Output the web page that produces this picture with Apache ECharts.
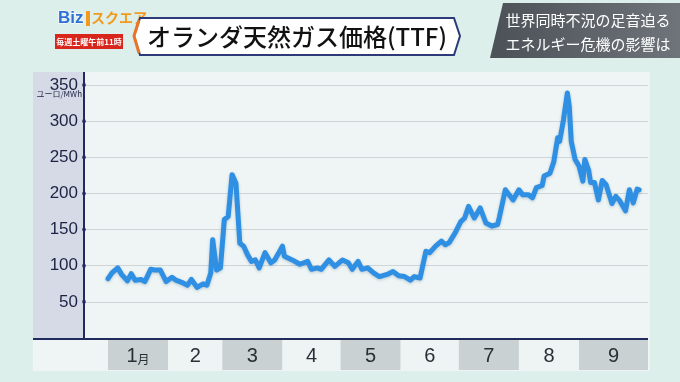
<!DOCTYPE html>
<html><head><meta charset="utf-8">
<script src="https://cdn.jsdelivr.net/npm/echarts@6/dist/echarts.min.js"></script>
<style>html,body{margin:0;padding:0;background:#dcefeb;}#c{width:680px;height:382px;}</style>
</head><body><div id="c"></div>
<script>
// Day of year 2022 (0 = Jan 1) and TTF price (EUR/MWh)
const days = [0,2,5,7,10,12,14,17,19,22,24,27,30,33,35,38,41,43,46,49,51,53,54,56,58,60,62,64,66,68,70,72,74,76,78,81,84,86,90,91,95,99,103,105,108,110,114,117,121,124,126,129,131,134,137,140,144,147,150,153,156,158,161,164,166,169,172,174,176,179,182,184,186,189,192,195,198,201,202,205,209,212,214,217,219,221,224,225,228,230,232,233,235,237,238,239,241,243,245,246,248,249,251,253,255,257,260,262,264,267,269,271,273,274];
const prices = [82,90,97,88,79,89,80,81,78,95,94,94,78,84,80,77,73,81,70,75,73,90,136,94,97,164,168,226,214,131,127,115,106,108,97,118,104,108,127,113,108,102,106,95,97,95,108,99,108,104,95,106,95,97,90,85,88,92,86,85,80,85,83,120,118,127,134,129,132,145,161,166,182,166,180,159,155,157,168,205,191,205,198,198,194,208,211,224,228,244,277,272,302,339,320,272,247,238,217,247,232,215,215,191,218,212,186,196,190,176,205,187,206,205];
const monthStarts = [0,31,59,90,120,151,181,212,243];
const monthLabels = ['1月','2','3','4','5','6','7','8','9'];
const yTicks = [50,100,150,200,250,300,350];
const xMin = -12.4, xMax = 278.6;

const chart = echarts.init(document.getElementById('c'));
const bandData = monthStarts.map((s,i)=>[s, i<monthStarts.length-1?monthStarts[i+1]:xMax, i]);
const jp = '"Noto Sans CJK JP", sans-serif';
chart.setOption({
  animation:false,
  backgroundColor:'#dcefeb',
  grid:[
    {left:84,right:32,top:85,bottom:44},
    {left:108,right:32,top:340,height:30}
  ],
  xAxis:[
    {gridIndex:0,type:'value',min:xMin,max:xMax,show:false},
    {gridIndex:1,type:'value',min:0,max:xMax,show:false}
  ],
  yAxis:[
    {gridIndex:0,type:'value',min:0,max:350,interval:50,
     axisLine:{show:true,onZero:false,lineStyle:{color:'#222b5e',width:2}},
     axisTick:{show:false},
     splitLine:{show:true,lineStyle:{color:'#cfd5d7',width:1}},
     axisLabel:{margin:6,fontSize:17,color:'#1d2344',fontFamily:'"Liberation Sans", Arial, sans-serif',
       formatter:v=>v===0?'':String(v)}},
    {gridIndex:1,type:'value',min:0,max:1,show:false}
  ],
  graphic:[
    {type:'rect',shape:{x:33,y:72,width:617,height:299},style:{fill:'#eef5f4'},z:-10,silent:true},
    {type:'rect',shape:{x:33,y:72,width:51,height:266},style:{fill:'#d6dae6'},z:-9,silent:true},
    {type:'line',shape:{x1:84,y1:72,x2:84,y2:86},style:{stroke:'#222b5e',lineWidth:2},z:5},
    {type:'line',shape:{x1:33,y1:339,x2:648,y2:339},style:{stroke:'#222b5e',lineWidth:2},z:5},
    {type:'text',style:{text:'ユーロ/MWh',x:82,y:94,align:'right',verticalAlign:'middle',fontSize:8,fill:'#1d2344',fontFamily:jp},z:5},
    // logo
    {type:'text',style:{text:'Biz',x:58,y:18,verticalAlign:'middle',fontSize:17,fontWeight:'bold',fill:'#2f6fd6',stroke:'#ffffff',lineWidth:1,fontFamily:'"Liberation Sans", Arial, sans-serif'}},
    {type:'rect',shape:{x:86,y:11,width:4,height:15},style:{fill:'#f39a1e'}},
    {type:'text',style:{text:'スクエア',x:91,y:18,verticalAlign:'middle',fontSize:14,fontWeight:'bold',fill:'#f39a1e',fontFamily:jp}},
    {type:'rect',shape:{x:55,y:34,width:68,height:15},style:{fill:'#d9261c'}},
    {type:'text',style:{text:'毎週土曜午前11時',x:89,y:41.5,align:'center',verticalAlign:'middle',fontSize:8,fontWeight:'bold',fill:'#ffffff',fontFamily:jp}},
    // title
    {type:'polygon',shape:{points:[[140,18],[454,18],[460,36],[454,55],[140,55],[134,36]]},style:{fill:'#ffffff',stroke:'#2c3a7a',lineWidth:2}},
    {type:'polyline',shape:{points:[[139,20],[134,36],[139,53]]},style:{stroke:'#e8752a',lineWidth:3,fill:null}},
    {type:'text',style:{text:'オランダ天然ガス価格(TTF)',x:147,y:37,verticalAlign:'middle',fontSize:24,fontWeight:500,fill:'#111111',fontFamily:jp}},
    // right box
    {type:'polygon',shape:{points:[[503,3],[680,3],[680,58],[490,58]]},style:{fill:new echarts.graphic.LinearGradient(0,0,1,0,[{offset:0,color:'#4c5158'},{offset:1,color:'#6f747b'}])}},
    {type:'text',style:{text:'世界同時不況の足音迫る',x:588,y:20,align:'center',verticalAlign:'middle',fontSize:15,fill:'#ffffff',fontFamily:jp}},
    {type:'text',style:{text:'エネルギー危機の影響は',x:588,y:44,align:'center',verticalAlign:'middle',fontSize:15,fill:'#ffffff',fontFamily:jp}}
  ],
  series:[
    {type:'line',xAxisIndex:0,yAxisIndex:0,data:days.map((d,i)=>[d,prices[i]]),showSymbol:false,
     lineStyle:{color:'#2f8fe3',width:5,cap:'round',join:'round',shadowColor:'rgba(0,60,120,0.25)',shadowBlur:3,shadowOffsetY:1},z:4},
    {type:'scatter',xAxisIndex:0,yAxisIndex:0,data:yTicks.map(v=>[xMin,v]),symbolSize:4,itemStyle:{color:'#222b5e'},z:6,silent:true},
    {type:'custom',xAxisIndex:1,yAxisIndex:1,data:bandData,silent:true,
     renderItem:(params,api)=>{
       const i=api.value(2);
       const p0=api.coord([api.value(0),1]); const p1=api.coord([api.value(1),0]);
       const lbl = monthLabels[i];
       const txt = lbl.length>1 ? '{a|'+lbl[0]+'}{b|'+lbl.slice(1)+'}' : '{a|'+lbl+'}';
       return {type:'group',children:[
         {type:'rect',shape:{x:p0[0],y:p0[1],width:p1[0]-p0[0],height:p1[1]-p0[1]},style:{fill:i%2===0?'#c9d1d2':'#eef4f3'}},
         {type:'text',style:{text:txt,x:(p0[0]+p1[0])/2,y:(p0[1]+p1[1])/2+1,align:'center',verticalAlign:'middle',
           rich:{a:{fontSize:20,fill:'#2a2e36',fontFamily:'"Liberation Sans", Arial, sans-serif'},
                 b:{fontSize:12,fill:'#2a2e36',fontFamily:jp,padding:[6,0,0,0]}}}}
       ]};
     }}
  ]
});
</script></body></html>
